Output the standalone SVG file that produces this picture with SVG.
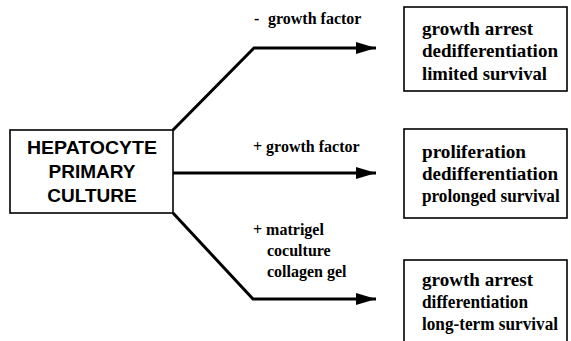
<svg xmlns="http://www.w3.org/2000/svg" width="571" height="341" viewBox="0 0 571 341">
  <defs>
    <marker id="arrowhead" viewBox="0 0 20 12" refX="20" refY="6" markerWidth="20" markerHeight="12" markerUnits="userSpaceOnUse" orient="auto">
      <path d="M0,0 L20,6 L0,12 Z" fill="#000"/>
    </marker>
  </defs>
  <style>
    .box { fill: #fff; stroke: #000; stroke-width: 1.6; }
    .edge { fill: none; stroke: #000; stroke-width: 3; stroke-linejoin: miter; }
    .head { font-family: "Liberation Sans", Arial, sans-serif; font-weight: bold; font-size: 19px; text-anchor: middle; fill: #000; }
    .out { font-family: "Liberation Serif", "Times New Roman", serif; font-weight: bold; font-size: 19px; fill: #000; }
    .cond { font-family: "Liberation Serif", "Times New Roman", serif; font-weight: bold; font-size: 16px; fill: #000; }
  </style>
  <rect width="571" height="341" fill="#fff"/>

  <!-- connectors -->
  <g id="connectors">
    <path class="edge" d="M173,130 L254,48 L376,48" marker-end="url(#arrowhead)"/>
    <path class="edge" d="M173,173 L376,173" marker-end="url(#arrowhead)"/>
    <path class="edge" d="M173,213 L253,299 L376,299" marker-end="url(#arrowhead)"/>
    <text class="cond" x="254" y="24">-</text>
    <text class="cond" x="268" y="24">growth factor</text>
    <text class="cond" x="253" y="152">+ growth factor</text>
    <text class="cond" x="253" y="235">+ matrigel</text>
    <text class="cond" x="267" y="256">coculture</text>
    <text class="cond" x="267" y="277">collagen gel</text>
  </g>

  <!-- source node -->
  <g id="culture">
    <rect class="box" x="10" y="130" width="163" height="83"/>
    <text class="head" x="92" y="154" textLength="130" lengthAdjust="spacingAndGlyphs">HEPATOCYTE</text>
    <text class="head" x="92" y="178">PRIMARY</text>
    <text class="head" x="92" y="202">CULTURE</text>
  </g>

  <!-- outcome: without growth factor -->
  <g id="no-growth-factor">
    <rect class="box" x="404" y="7" width="163" height="84"/>
    <text class="out" x="422" y="35" textLength="111" lengthAdjust="spacingAndGlyphs">growth arrest</text>
    <text class="out" x="422" y="57" textLength="136" lengthAdjust="spacingAndGlyphs">dedifferentiation</text>
    <text class="out" x="422" y="80" textLength="125" lengthAdjust="spacingAndGlyphs">limited survival</text>
  </g>

  <!-- outcome: with growth factor -->
  <g id="growth-factor">
    <rect class="box" x="404" y="129" width="163" height="89"/>
    <text class="out" x="422" y="158" textLength="104" lengthAdjust="spacingAndGlyphs">proliferation</text>
    <text class="out" x="422" y="180" textLength="136" lengthAdjust="spacingAndGlyphs">dedifferentiation</text>
    <text class="out" transform="translate(422,202) scale(0.905,1)">prolonged survival</text>
  </g>

  <!-- outcome: matrix / coculture -->
  <g id="matrix">
    <rect class="box" x="404" y="260" width="163" height="90"/>
    <text class="out" x="422" y="286" textLength="111" lengthAdjust="spacingAndGlyphs">growth arrest</text>
    <text class="out" x="422" y="308" textLength="106" lengthAdjust="spacingAndGlyphs">differentiation</text>
    <text class="out" transform="translate(422,330) scale(0.905,1)">long-term survival</text>
  </g>
</svg>
